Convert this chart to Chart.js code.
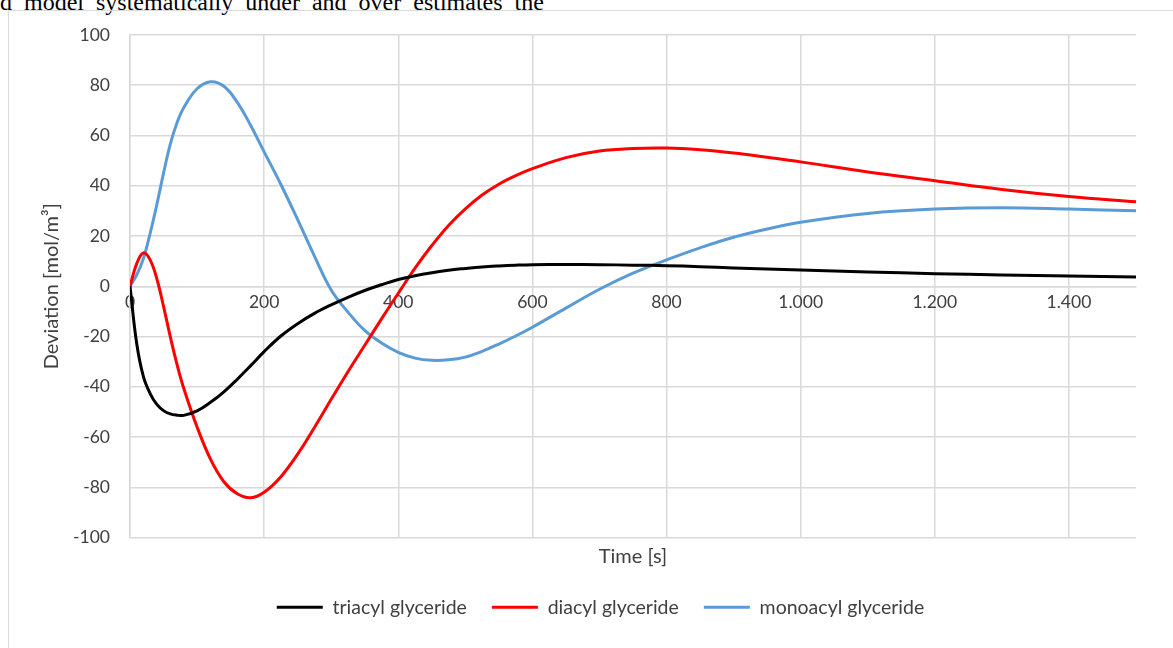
<!DOCTYPE html>
<html>
<head>
<meta charset="utf-8">
<script src="https://cdn.jsdelivr.net/npm/chart.js@4.4.0/dist/chart.umd.min.js"></script>
<style>
  html, body { margin: 0; padding: 0; background: #fff; }
  body { width: 1173px; height: 648px; position: relative; overflow: hidden; }
  #pageText {
    position: absolute; left: 0; top: -10px; white-space: nowrap;
    font-family: "Liberation Serif", serif; font-size: 24px; line-height: 24px;
    color: #000; word-spacing: 6px;
  }
  #frame {
    position: absolute; left: 8px; top: 10px; width: 1300px; height: 800px;
    border: 1.5px solid #d9d9d9; box-sizing: border-box;
  }
  #chart { position: absolute; left: 0; top: 0; }
</style>
</head>
<body>
<div id="pageText">d model systematically under and over estimates the</div>
<div id="frame"></div>
<canvas id="chart" width="1173" height="648"></canvas>
<script>
// time points [s]
const times = [0, 10, 20, 30, 40, 50, 60, 70, 80, 100, 120, 140, 160, 180, 200, 225, 250, 275, 300, 325, 350, 375, 400, 425, 450, 475, 500, 525, 550, 575, 600, 650, 700, 750, 800, 850, 900, 950, 1000, 1100, 1200, 1300, 1400, 1500];

// deviation [mol/m3] per component
const triacyl = [0, -22.8, -36, -42.7, -47, -49.5, -50.8, -51.3, -51.4, -49.6, -46.2, -42, -37, -31.6, -26, -19.8, -14.9, -10.8, -7.4, -4.4, -1.7, 0.6, 2.7, 4.2, 5.4, 6.4, 7.1, 7.7, 8.1, 8.4, 8.6, 8.7, 8.6, 8.4, 8.2, 7.8, 7.3, 6.9, 6.5, 5.7, 5.0, 4.5, 4.1, 3.7];
const diacyl = [0, 9, 13.3, 10.5, 3, -8, -20, -31, -40.5, -56, -68.8, -77.8, -82.6, -84.2, -82, -75.8, -66.8, -56.2, -45, -34, -23.5, -13, -2.8, 7.2, 16.2, 24.2, 30.8, 36.3, 40.6, 44, 46.8, 51.2, 53.8, 54.8, 55, 54.3, 53, 51.3, 49.5, 45.5, 42, 38.5, 35.7, 33.6];
const monoacyl = [0, 4.5, 11, 21, 32.5, 45, 56.5, 65, 71, 78.6, 81.4, 79.6, 73.2, 64, 53.5, 40.5, 26.5, 12, -1.5, -10.3, -17.6, -22.6, -26.3, -28.6, -29.5, -29.3, -28.2, -25.9, -23, -19.8, -16.3, -8.7, -1.2, 5.2, 10.5, 15.3, 19.5, 22.8, 25.5, 29, 30.7, 31.2, 30.7, 30];

const seriesNames = ['triacyl glyceride', 'diacyl glyceride', 'monoacyl glyceride'];
const seriesColors = ['#000000', '#ff0000', '#5b9bd5'];

const xMin = 0, xMax = 1500, xStep = 200;
const yMin = -100, yMax = 100, yStep = 20;

const gridColor = '#d9d9d9';
const textColor = '#404040';
const tickFont = { family: 'Lato', size: 17.5 };
const titleFont = { family: 'Lato', size: 20 };
const legendFont = { family: 'Lato', size: 19.5 };

const toPoints = (vals) => vals.map((v, i) => ({ x: times[i], y: v }));

// 1000 -> "1.000"
const formatThousands = (v) => String(v).replace(/\B(?=(\d{3})+(?!\d))/g, '.');

const datasets = [triacyl, diacyl, monoacyl].map((vals, i) => ({
  label: seriesNames[i],
  data: toPoints(vals),
  borderColor: seriesColors[i],
  backgroundColor: seriesColors[i],
  borderWidth: 3,
  pointRadius: 0,
  tension: 0.4,
}));

new Chart(document.getElementById('chart').getContext('2d'), {
  type: 'line',
  data: { datasets },
  options: {
    responsive: false,
    animation: false,
    devicePixelRatio: 1,
    layout: { padding: { left: 65, right: 37, top: 35, bottom: 21 } },
    scales: {
      x: {
        type: 'linear',
        min: xMin,
        max: xMax,
        position: { y: 0 },
        grid: { color: gridColor, lineWidth: 1.5, drawTicks: false },
        border: { color: gridColor, width: 1.5 },
        ticks: {
          stepSize: xStep,
          includeBounds: false,
          maxRotation: 0,
          padding: 6,
          color: textColor,
          font: tickFont,
          callback: (v) => formatThousands(v),
        },
      },
      // only carries the "Time [s]" title under the plot
      xTitle: {
        type: 'linear',
        axis: 'x',
        position: 'bottom',
        min: xMin,
        max: xMax,
        grid: { display: false },
        border: { display: false },
        ticks: { display: false },
        title: { display: true, text: 'Time [s]', color: textColor, font: titleFont, padding: { top: 0, bottom: 4 } },
        afterFit: (scale) => { scale.height = 35; },
      },
      y: {
        min: yMin,
        max: yMax,
        grid: { color: gridColor, lineWidth: 1.5, drawTicks: false },
        border: { color: gridColor, width: 1.5 },
        ticks: { stepSize: yStep, padding: 20, color: textColor, font: tickFont },
        title: { display: true, text: 'Deviation [mol/m³]', color: textColor, font: titleFont, padding: { top: -25, bottom: 0 } },
        afterFit: (scale) => { scale.width = 65; },
      },
    },
    plugins: {
      tooltip: { enabled: false },
      legend: {
        position: 'bottom',
        labels: {
          color: textColor,
          font: legendFont,
          boxWidth: 46,
          boxHeight: 3,
          padding: 25,
          generateLabels: (chart) => {
            const items = Chart.defaults.plugins.legend.labels.generateLabels(chart);
            items.forEach((item) => { item.lineWidth = 0; item.fillStyle = item.strokeStyle; });
            return items;
          },
        },
      },
    },
  },
});
</script>
</body>
</html>
